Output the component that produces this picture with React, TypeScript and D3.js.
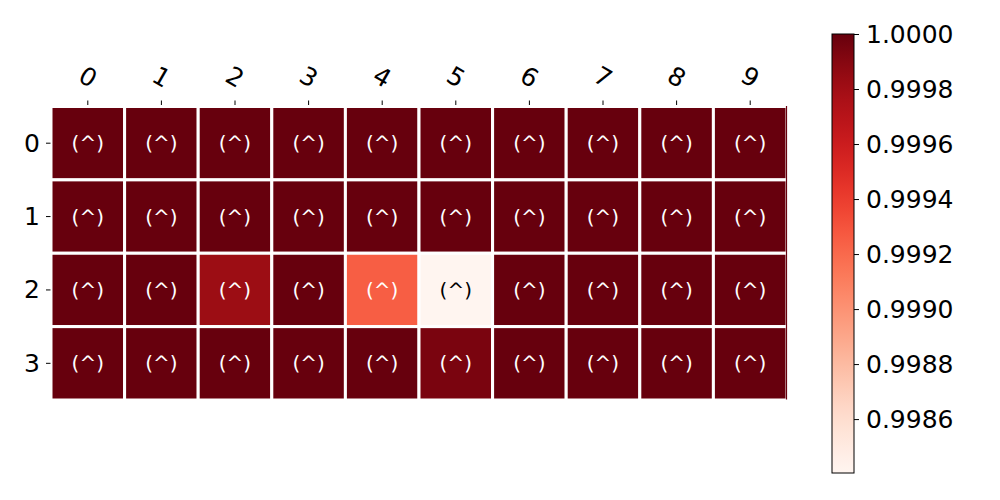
import React, { useEffect, useRef } from "react";
import * as d3 from "d3";

// heatmap data (rows 0-3, columns 0-9)
const rowLabels = ["0", "1", "2", "3"];
const colLabels = ["0", "1", "2", "3", "4", "5", "6", "7", "8", "9"];
const row0 = [1, 1, 1, 1, 1, 1, 1, 1, 1, 1];
const row1 = [1, 1, 1, 1, 1, 1, 1, 1, 1, 1];
const row2 = [1, 1, 0.99982, 1, 0.99925, 0.998404, 1, 1, 1, 1];
const row3 = [1, 1, 1, 1, 1, 0.99994, 1, 1, 1, 1];
const cellText = "(^)";
const vMin = 0.998404;
const vMax = 1.0;
const cbarTicks = [0.9986, 0.9988, 0.999, 0.9992, 0.9994, 0.9996, 0.9998, 1.0];

const App = () => {
  const ref = useRef<SVGSVGElement>(null);

  useEffect(() => {
    const svg = d3.select(ref.current);
    svg.selectAll("*").remove();
    const font = "DejaVu Sans";

    const rows = [row0, row1, row2, row3];
    const cells = rows.flatMap((r, i) => r.map((v, j) => ({ i, j, v })));

    const x = d3.scaleBand().domain(colLabels).range([51, 787]);
    const y = d3.scaleBand().domain(rowLabels).range([106.5, 400]);
    const color = d3.scaleSequential(d3.interpolateReds).domain([vMin, vMax]);

    const g = svg.append("g");

    // cells
    g.selectAll("rect.cell")
      .data(cells)
      .enter().append("rect")
      .attr("class", "cell")
      .attr("x", d => x(colLabels[d.j])!)
      .attr("y", d => y(rowLabels[d.i])!)
      .attr("width", x.bandwidth())
      .attr("height", y.bandwidth())
      .attr("fill", d => color(d.v))
      .attr("stroke", "white")
      .attr("stroke-width", 3);

    // thin edge on the right side
    g.append("line")
      .attr("x1", 786.5).attr("x2", 786.5)
      .attr("y1", 106).attr("y2", 399.5)
      .attr("stroke", color(vMax))
      .attr("stroke-width", 1.2);

    // cell annotations
    g.selectAll("text.annot")
      .data(cells)
      .enter().append("text")
      .attr("class", "annot")
      .attr("x", d => x(colLabels[d.j])! + x.bandwidth() / 2)
      .attr("y", d => y(rowLabels[d.i])! + y.bandwidth() / 2)
      .attr("text-anchor", "middle")
      .attr("dominant-baseline", "central")
      .attr("font-family", font)
      .attr("font-size", 20)
      .attr("fill", d => (d.v - vMin) / (vMax - vMin) < 0.3 ? "black" : "white")
      .text(cellText);

    // top axis
    colLabels.forEach(c => {
      const cx = x(c)! + x.bandwidth() / 2;
      g.append("line")
        .attr("x1", cx).attr("x2", cx)
        .attr("y1", 100.5).attr("y2", 105)
        .attr("stroke", "black").attr("stroke-width", 1);
      g.append("text")
        .attr("transform", `translate(${cx},77) rotate(30)`)
        .attr("text-anchor", "middle")
        .attr("dominant-baseline", "central")
        .attr("font-family", font)
        .attr("font-size", 25)
        .text(c);
    });

    // left axis
    rowLabels.forEach(r => {
      const cy = y(r)! + y.bandwidth() / 2;
      g.append("line")
        .attr("x1", 46).attr("x2", 50.5)
        .attr("y1", cy).attr("y2", cy)
        .attr("stroke", "black").attr("stroke-width", 1);
      g.append("text")
        .attr("x", 40)
        .attr("y", cy)
        .attr("text-anchor", "end")
        .attr("dominant-baseline", "central")
        .attr("font-family", font)
        .attr("font-size", 25)
        .text(r);
    });

    // colorbar
    const cb = { x: 832, y: 34, w: 22, h: 439 };
    const defs = svg.append("defs");
    const grad = defs.append("linearGradient")
      .attr("id", "cbar")
      .attr("x1", 0).attr("y1", 1).attr("x2", 0).attr("y2", 0);
    d3.range(0, 1.0001, 0.05).forEach(t => {
      grad.append("stop")
        .attr("offset", t)
        .attr("stop-color", d3.interpolateReds(t));
    });
    svg.append("rect")
      .attr("x", cb.x).attr("y", cb.y)
      .attr("width", cb.w).attr("height", cb.h)
      .attr("fill", "url(#cbar)")
      .attr("stroke", "black")
      .attr("stroke-width", 1);

    const cy = d3.scaleLinear().domain([vMin, vMax]).range([cb.y + cb.h, cb.y]);
    const axis = svg.append("g")
      .attr("transform", `translate(${cb.x + cb.w},0)`)
      .call(d3.axisRight(cy).tickValues(cbarTicks).tickFormat(d3.format(".4f")).tickSize(5).tickPadding(7));
    axis.select(".domain").remove();
    axis.selectAll("text")
      .attr("font-family", font)
      .attr("font-size", 25)
      .attr("fill", "black");
  }, []);

  return <svg ref={ref} width={1000} height={500} style={{ display: "block", margin: -8 }} />;
};

export default App;
